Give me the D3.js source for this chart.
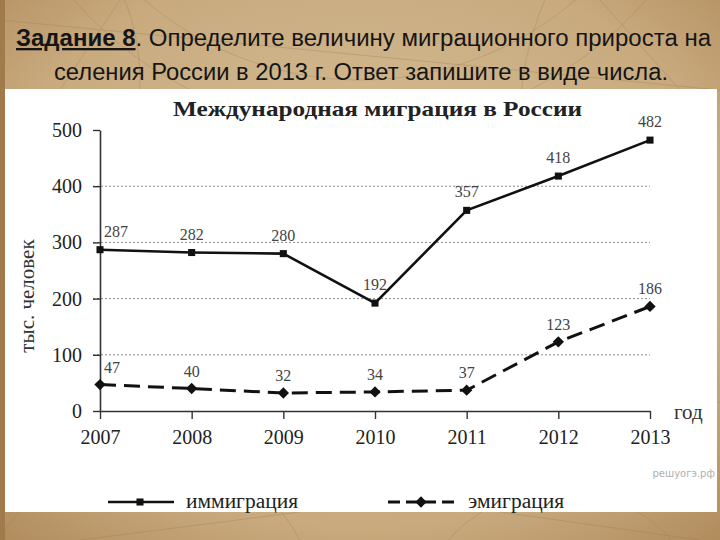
<!DOCTYPE html>
<html><head><meta charset="utf-8">
<script src="https://cdn.jsdelivr.net/npm/d3@7/dist/d3.min.js"></script>
<style>html,body{margin:0;padding:0;background:#c9ad84;}svg{display:block;}</style>
</head><body>
<svg id="c" width="720" height="540"></svg>
<script>
const years = ["2007","2008","2009","2010","2011","2012","2013"];
const immigration = [287,282,280,192,357,418,482];
const emigration = [47,40,32,34,37,123,186];
const yTicks = [0,100,200,300,400,500];
const gridTicks = [100,200,300,400];
const chartTitle = "Международная миграция в России";
const yLabel = "тыс. человек";
const xLabel = "год";
const legendNames = ["иммиграция","эмиграция"];
const taskBold = "Задание 8";
const taskLine1Rest = ". Определите величину миграционного прироста на";
const taskLine2 = "селения России в 2013 г. Ответ запишите в виде числа.";
const watermark = "решуогэ.рф";

const svg = d3.select("#c");
const defs = svg.append("defs");
const rg = defs.append("radialGradient").attr("id","bg").attr("cx","50%").attr("cy","45%").attr("r","75%");
rg.append("stop").attr("offset","0%").attr("stop-color","#d9c29c");
rg.append("stop").attr("offset","70%").attr("stop-color","#c8aa7e");
rg.append("stop").attr("offset","100%").attr("stop-color","#b08b5c");
svg.append("rect").attr("width",720).attr("height",540).attr("fill","url(#bg)");
svg.append("rect").attr("x",0).attr("y",0).attr("width",5).attr("height",540).attr("fill","#a07a4a");
// faint map lines
const deco = svg.append("g").attr("fill","none").attr("stroke","#9c7e55").attr("stroke-opacity",0.35).attr("stroke-width",1);
[[360,-250,330],[360,-250,380],[150,620,170],[560,640,150],[820,120,300],[-80,80,220]].forEach(c=>{
  deco.append("circle").attr("cx",c[0]).attr("cy",c[1]).attr("r",c[2]);
});
[[0,20,720,90],[120,0,60,90],[600,0,680,90],[80,540,300,512],[500,512,700,540]].forEach(l=>{
  deco.append("line").attr("x1",l[0]).attr("y1",l[1]).attr("x2",l[2]).attr("y2",l[3]);
});

// task text
const tf = "'Liberation Sans Narrow','Arial Narrow','Liberation Sans',Arial,sans-serif";
const t1 = svg.append("text").attr("x",16).attr("y",46).attr("font-family",tf).attr("font-size",23)
  .attr("fill","#151515").attr("textLength",695).attr("lengthAdjust","spacingAndGlyphs");
t1.append("tspan").attr("font-weight","bold").attr("text-decoration","underline").text(taskBold);
t1.append("tspan").text(taskLine1Rest);
svg.append("text").attr("x",54).attr("y",80).attr("font-family",tf).attr("font-size",23)
  .attr("fill","#151515").attr("textLength",614).attr("lengthAdjust","spacingAndGlyphs").text(taskLine2);

// white panel
svg.append("rect").attr("x",5).attr("y",89).attr("width",712).attr("height",423).attr("fill","#ffffff");

const serif = "'Liberation Serif','Times New Roman',serif";
const x = d3.scalePoint().domain(years).range([100,650]);
const y = d3.scaleLinear().domain([0,500]).range([411,130]);

svg.append("text").attr("x",173).attr("y",116).attr("font-family",serif).attr("font-weight","bold")
  .attr("font-size",22).attr("fill","#222").attr("textLength",409).attr("lengthAdjust","spacingAndGlyphs").text(chartTitle);

// grid
svg.append("g").selectAll("line").data(gridTicks).join("line")
  .attr("x1",93).attr("x2",650).attr("y1",d=>y(d)).attr("y2",d=>y(d))
  .attr("stroke","#8a8a8a").attr("stroke-width",1).attr("stroke-dasharray","2,2");

const yAxis = svg.append("g").attr("transform","translate(100,0)")
  .call(d3.axisLeft(y).tickValues(yTicks).tickSize(7).tickSizeOuter(0).tickPadding(11));
const xAxis = svg.append("g").attr("transform","translate(0,411)")
  .call(d3.axisBottom(x).tickSize(8).tickSizeOuter(0).tickPadding(11));
[yAxis,xAxis].forEach(a=>{
  a.select(".domain").attr("stroke","#333").attr("stroke-width",1.6);
  a.selectAll(".tick line").attr("stroke","#333").attr("stroke-width",1.4);
  a.selectAll("text").attr("font-family",serif).attr("font-size",20).attr("fill","#222");
});

svg.append("text").attr("transform","translate(34,296) rotate(-90)").attr("text-anchor","middle")
  .attr("font-family",serif).attr("font-size",21).attr("fill","#333").text(yLabel);
svg.append("text").attr("x",674).attr("y",419).attr("font-family",serif).attr("font-size",21).attr("fill","#333").text(xLabel);

const line = d3.line().x((d,i)=>x(years[i])).y(d=>y(d));
svg.append("path").datum(immigration).attr("d",line).attr("fill","none").attr("stroke","#111").attr("stroke-width",2.6);
svg.append("path").datum(emigration).attr("d",line).attr("fill","none").attr("stroke","#111").attr("stroke-width",3).attr("stroke-dasharray","16,8");

const sq = d3.symbol().type(d3.symbolSquare).size(50);
const dm = d3.symbol().type(d3.symbolSquare).size(64);
svg.append("g").selectAll("path").data(immigration).join("path")
  .attr("d",sq).attr("transform",(d,i)=>`translate(${x(years[i])},${y(d)})`).attr("fill","#111");
svg.append("g").selectAll("path").data(emigration).join("path")
  .attr("d",dm).attr("transform",(d,i)=>`translate(${x(years[i])},${y(d)}) rotate(45)`).attr("fill","#111");

function labels(data, off){
  svg.append("g").selectAll("text").data(data).join("text")
    .attr("x",(d,i)=> i===0 ? x(years[i])+4 : x(years[i]))
    .attr("y",d=>y(d)-off)
    .attr("text-anchor",(d,i)=> i===0 ? "start" : "middle")
    .attr("font-family",serif).attr("font-size",16).attr("fill","#444").text(d=>d);
}
labels(immigration,13);
labels(emigration,12);

svg.append("text").attr("x",715).attr("y",477).attr("text-anchor","end").attr("font-family","'DejaVu Sans',sans-serif")
  .attr("font-size",10).attr("fill","#b0b0b0").text(watermark);

// legend
const lg = svg.append("g");
lg.append("line").attr("x1",108).attr("x2",174).attr("y1",502).attr("y2",502).attr("stroke","#111").attr("stroke-width",2.6);
lg.append("path").attr("d",sq).attr("transform","translate(140,502)").attr("fill","#111");
lg.append("text").attr("x",186).attr("y",508).attr("font-family",serif).attr("font-size",20).attr("fill","#222")
  .attr("textLength",112).attr("lengthAdjust","spacingAndGlyphs").text(legendNames[0]);
lg.append("line").attr("x1",388).attr("x2",455).attr("y1",502).attr("y2",502).attr("stroke","#111").attr("stroke-width",3).attr("stroke-dasharray","12,6");
lg.append("path").attr("d",dm).attr("transform","translate(421,502) rotate(45)").attr("fill","#111");
lg.append("text").attr("x",468).attr("y",508).attr("font-family",serif).attr("font-size",20).attr("fill","#222")
  .attr("textLength",96).attr("lengthAdjust","spacingAndGlyphs").text(legendNames[1]);
</script>
</body></html>
